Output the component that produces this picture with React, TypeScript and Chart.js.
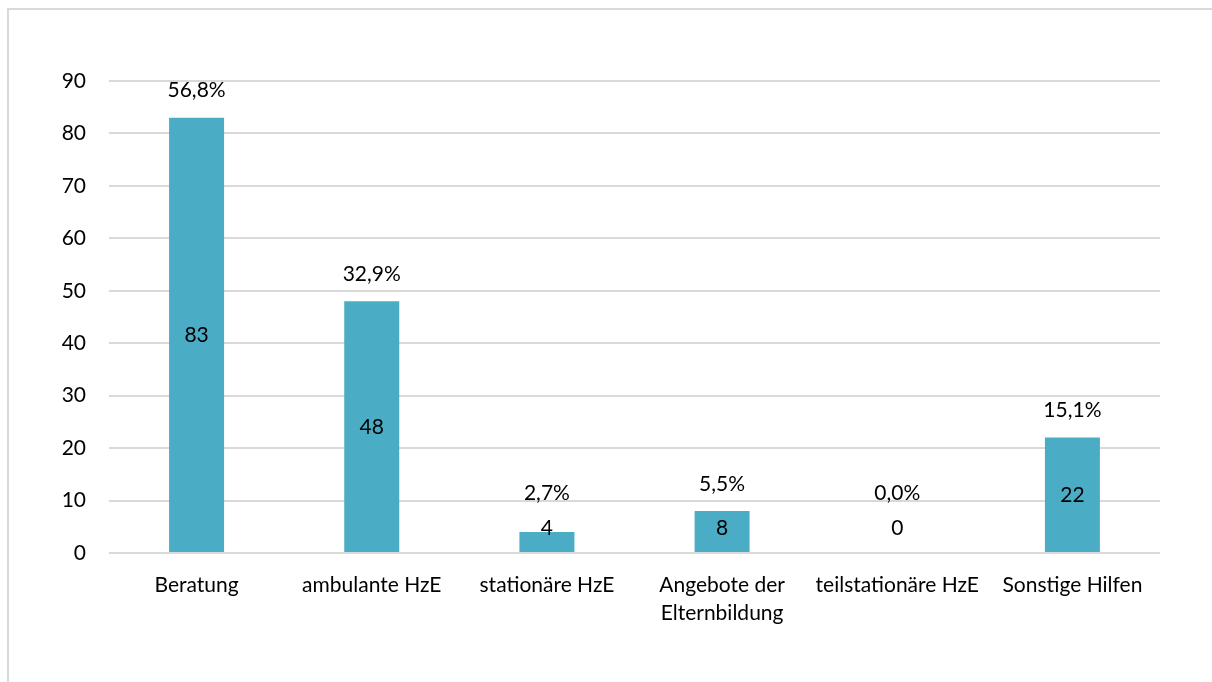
import React, { useEffect, useRef } from "react";
import { Chart, registerables } from "chart.js";

Chart.register(...registerables);

// Categories (multi-line where the label wraps)
const categories: (string | string[])[] = [
  "Beratung",
  "ambulante HzE",
  "stationäre HzE",
  ["Angebote der", "Elternbildung"],
  "teilstationäre HzE",
  "Sonstige Hilfen",
];

// Number of cases per category
const counts = [83, 48, 4, 8, 0, 22];

// Share of all cases, in percent
const shares = [56.8, 32.9, 2.7, 5.5, 0.0, 15.1];

// Value axis
const yMin = 0;
const yMax = 90;
const yStep = 10;

const FONT = "Lato, 'Open Sans', sans-serif";
const FONT_SIZE = 21;
const BAR_COLOR = "#4BACC6";
const GRID_COLOR = "#d9d9d9";
const TEXT_COLOR = "#000000";

const fmtPct = (v: number) => v.toFixed(1).replace(".", ",") + "%";

// Outer frame of the chart box
const framePlugin = {
  id: "frame",
  beforeDraw(chart: any) {
    const { ctx, width, height } = chart;
    ctx.save();
    ctx.fillStyle = "#ffffff";
    ctx.fillRect(0, 0, width, height);
    ctx.strokeStyle = GRID_COLOR;
    ctx.lineWidth = 2;
    ctx.beginPath();
    ctx.moveTo(8, height);
    ctx.lineTo(8, 9);
    ctx.lineTo(width, 9);
    ctx.stroke();
    ctx.restore();
  },
};

// Count inside each bar, share above it
const labelPlugin = {
  id: "barLabels",
  afterDatasetsDraw(chart: any) {
    const { ctx } = chart;
    const meta = chart.getDatasetMeta(0);
    const zeroY = chart.scales.y.getPixelForValue(0);
    ctx.save();
    ctx.font = `${FONT_SIZE}px ${FONT}`;
    ctx.fillStyle = TEXT_COLOR;
    ctx.textAlign = "center";
    ctx.textBaseline = "middle";
    meta.data.forEach((bar: any, i: number) => {
      const top = bar.y;
      const mid = (top + zeroY) / 2;
      const countY = Math.min(mid, zeroY - 25);
      ctx.fillText(String(counts[i]), bar.x, countY);
      const pctY = Math.min(top - 27, zeroY - 60);
      ctx.fillText(fmtPct(shares[i]), bar.x, pctY);
    });
    ctx.restore();
  },
};

export default function App() {
  const canvasRef = useRef<HTMLCanvasElement | null>(null);

  useEffect(() => {
    if (!canvasRef.current) return;
    const chart = new Chart(canvasRef.current, {
      type: "bar",
      data: {
        labels: categories as any,
        datasets: [
          {
            data: counts,
            backgroundColor: BAR_COLOR,
            borderWidth: 0,
            categoryPercentage: 1,
            barPercentage: 0.314,
          },
        ],
      },
      options: {
        animation: false,
        responsive: false,
        maintainAspectRatio: false,
        layout: { padding: { top: 81, right: 52, left: 0, bottom: 0 } },
        plugins: {
          legend: { display: false },
          tooltip: { enabled: false },
        },
        scales: {
          x: {
            grid: { display: false, drawTicks: false },
            border: { display: false },
            ticks: {
              color: TEXT_COLOR,
              font: { family: FONT, size: FONT_SIZE, lineHeight: 1.35 },
              padding: 18,
              maxRotation: 0,
              autoSkip: false,
            },
            afterFit(scale: any) {
              scale.height = 129;
            },
          },
          y: {
            min: yMin,
            max: yMax,
            grid: { color: GRID_COLOR, lineWidth: 2, drawTicks: false },
            border: { display: false },
            ticks: {
              stepSize: yStep,
              color: TEXT_COLOR,
              font: { family: FONT, size: FONT_SIZE },
              padding: 23,
            },
            afterFit(scale: any) {
              scale.width = 109;
            },
          },
        },
      },
      plugins: [framePlugin, labelPlugin],
    });
    return () => chart.destroy();
  }, []);

  return (
    <div style={{ position: "fixed", left: 0, top: 0, width: 1212, height: 682, overflow: "hidden", background: "#fff" }}>
      <canvas ref={canvasRef} width={1212} height={682} style={{ display: "block" }} />
    </div>
  );
}
